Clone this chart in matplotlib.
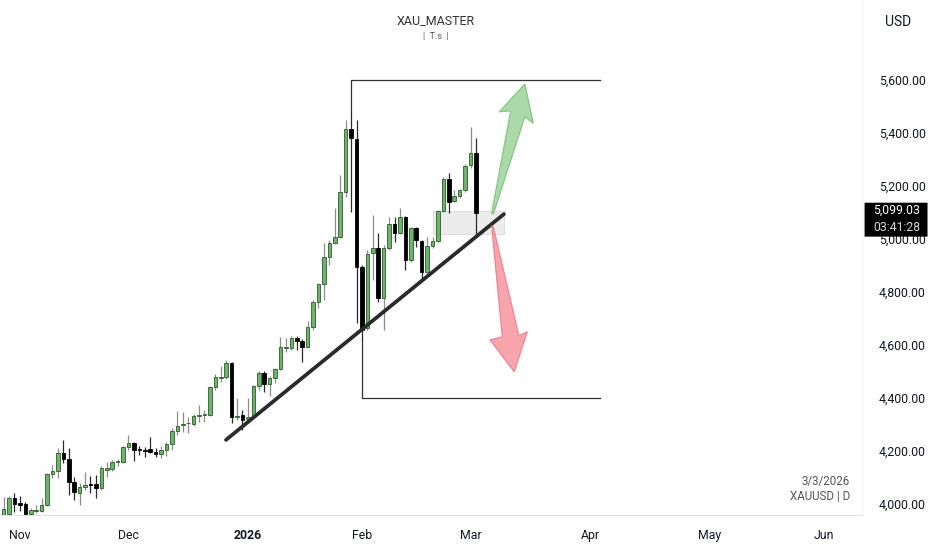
import numpy as np
import pandas as pd
import matplotlib
matplotlib.use("Agg")
from matplotlib import pyplot as plt
from matplotlib.patches import Polygon, Rectangle, FancyBboxPatch

plt.rcParams['font.family'] = ['Roboto', 'DejaVu Sans']

# trading days (XAUUSD daily), bars counted without weekends
days = pd.bdate_range('2025-10-29', '2026-06-30')
days = days[~days.isin(pd.to_datetime(['2025-12-25', '2026-01-01']))]

opens = [3958, 3962, 4023, 4004, 4000, 3962, 3975, 3974, 3996, 4113,
         4125, 4192, 4170, 4083, 4042, 4064, 4074, 4075, 4060, 4130,
         4132, 4157, 4158, 4215, 4230, 4206, 4204, 4208, 4196, 4189,
         4204, 4226, 4275, 4298, 4304, 4302, 4332, 4336, 4336, 4442,
         4477, 4479, 4532, 4330, 4336, 4321, 4328, 4445, 4494, 4453,
         4475, 4509, 4590, 4589, 4626, 4615, 4592, 4668, 4762, 4830,
         4932, 4985, 5008, 5177, 5415, 5377, 4894, 4664, 4947, 4966,
         4777, 4966, 5057, 5023, 5083, 4921, 5042, 4992, 4875, 4974,
         4992, 5106, 5226, 5143, 5162, 5185, 5279, 5325]
highs = [4026, 4030, 4042, 4030, 4008, 3985, 3996, 4023, 4117, 4147,
         4211, 4242, 4211, 4102, 4079, 4121, 4106, 4109, 4143, 4158,
         4166, 4170, 4219, 4260, 4234, 4219, 4215, 4253, 4211, 4219,
         4234, 4287, 4351, 4347, 4328, 4340, 4374, 4355, 4445, 4491,
         4521, 4543, 4536, 4400, 4355, 4400, 4449, 4502, 4502, 4483,
         4513, 4630, 4626, 4634, 4634, 4623, 4691, 4770, 4834, 4985,
         4996, 5117, 5242, 5449, 5479, 5449, 4902, 4958, 5091, 5023,
         4977, 5083, 5083, 5117, 5087, 5045, 5045, 4996, 5008, 5008,
         5109, 5234, 5249, 5185, 5189, 5283, 5423, 5381]
lows = [3955, 3955, 3970, 3974, 3955, 3958, 3966, 3970, 3992, 4098,
        4098, 4155, 4034, 4015, 3996, 4053, 4042, 4023, 4053, 4102,
        4125, 4143, 4155, 4204, 4162, 4185, 4177, 4192, 4177, 4174,
        4181, 4204, 4260, 4272, 4268, 4294, 4309, 4309, 4332, 4430,
        4460, 4472, 4306, 4317, 4279, 4317, 4325, 4430, 4423, 4408,
        4457, 4506, 4574, 4581, 4581, 4536, 4589, 4657, 4740, 4770,
        4902, 4981, 5004, 5158, 5102, 4683, 4619, 4657, 4845, 4762,
        4657, 4958, 4989, 5019, 4883, 4913, 4970, 4845, 4872, 4966,
        4989, 5102, 5098, 5140, 5155, 5177, 5268, 5015]
closes = [3981, 4023, 4000, 3996, 3962, 3977, 3979, 3996, 4113, 4125,
          4192, 4170, 4083, 4045, 4064, 4072, 4071, 4060, 4136, 4136,
          4158, 4160, 4215, 4230, 4204, 4202, 4201, 4196, 4189, 4204,
          4226, 4275, 4294, 4302, 4306, 4332, 4336, 4338, 4442, 4479,
          4481, 4532, 4328, 4332, 4317, 4328, 4445, 4494, 4453, 4475,
          4509, 4592, 4594, 4626, 4615, 4592, 4668, 4762, 4830, 4932,
          4985, 5008, 5177, 5415, 5381, 4894, 4657, 4943, 4966, 4777,
          4966, 5057, 5023, 5083, 4921, 5042, 4996, 4875, 4974, 4992,
          5106, 5226, 5140, 5162, 5185, 5275, 5325, 5099.03]

price_ticks = [4000, 4200, 4400, 4600, 4800, 5000, 5200, 5400, 5600]
month_names = ['Nov', 'Dec', '2026', 'Feb', 'Mar', 'Apr', 'May', 'Jun']

# drawings (bar index, price)
trend = [(40.96, 4242), (92.15, 5094)]
top_l = [(64, 5479), (64, 5600), (109.8, 5600)]
bot_l = [(66, 4619), (66, 4400), (109.8, 4400)]
zone = (79.1, 5019, 92.2, 5106)
up_arrow = [(89.9, 5098), (93.4, 5484), (91.3, 5480), (96.0, 5585),
            (97.55, 5437), (96.0, 5461), (90.2, 5094)]
down_arrow = [(89.9, 5049), (91.85, 4631), (89.6, 4619), (94.05, 4499),
              (96.45, 4650), (94.9, 4635), (90.2, 5046)]

fig = plt.figure(figsize=(9.32, 5.5), dpi=100)
ax = fig.add_axes([0, 35 / 550, 862 / 932, 515 / 550])
ax.set_xlim(-0.66, 158.1)
ax.set_ylim(3958.5, 5902)

n = len(closes)
x = np.arange(n)
o = np.array(opens, float)
c = np.array(closes, float)
up = c >= o
wick_col = np.where(up, '#8c8c8c', '#2a2a2a')
ax.vlines(x, lows, highs, colors=wick_col, linewidth=0.9, zorder=2)
bottom = np.minimum(o, c)
height = np.maximum(np.abs(c - o), 3.5)
ax.bar(x[up], height[up], bottom=bottom[up], width=0.66, color='#6db36a',
       edgecolor='#2f5a2f', linewidth=0.6, zorder=3)
ax.bar(x[~up], height[~up], bottom=bottom[~up], width=0.66, color='#000000',
       edgecolor='#000000', linewidth=0.6, zorder=3)

# gray zone
ax.add_patch(Rectangle((zone[0], zone[1]), zone[2] - zone[0], zone[3] - zone[1],
                       facecolor='#e6e6e6', edgecolor='#d0d0d0', linewidth=0.6,
                       alpha=0.75, zorder=1))

# trend line
ax.plot(*zip(*trend), color='#2b2b2b', linewidth=2.7, solid_capstyle='round', zorder=4)
ax.plot(*zip(*top_l), color='#333333', linewidth=0.9, zorder=1.5)
ax.plot(*zip(*bot_l), color='#333333', linewidth=0.9, zorder=1.5)

ax.add_patch(Polygon(up_arrow, closed=True, facecolor='#acd9aa', edgecolor='#86c684',
                     linewidth=0.9, zorder=5))
ax.add_patch(Polygon(down_arrow, closed=True, facecolor='#f6a5ad', edgecolor='#ef8591',
                     linewidth=0.9, zorder=5))

# axes styling
for s in ['top', 'left']:
    ax.spines[s].set_visible(False)
ax.spines['bottom'].set_color('#e0e3eb')
ax.spines['right'].set_color('#f3f4f6')
ax.yaxis.tick_right()
ax.set_yticks(price_ticks)
ax.set_yticklabels([f'{p:,.2f}' for p in price_ticks])
ax.tick_params(axis='y', length=0, pad=12, labelsize=8.8, labelcolor='#131722')

month_pos = []
for m in pd.period_range('2025-11', '2026-06', freq='M'):
    month_pos.append(int(np.argmax(days.to_period('M') == m)))
ax.set_xticks(month_pos)
ax.set_xticklabels(month_names)
ax.tick_params(axis='x', length=0, pad=10, labelsize=8.8, labelcolor='#131722')
ax.get_xticklabels()[2].set_fontweight('bold')

# last price label
ax.add_patch(FancyBboxPatch((1.003, c[-1] - 90), 0.073, 128,
                            boxstyle='round,pad=0,rounding_size=0.003',
                            transform=ax.get_yaxis_transform(), clip_on=False,
                            facecolor='#000000', edgecolor='none', zorder=10))
ax.text(1.04, c[-1] + 8, f'{c[-1]:,.2f}', transform=ax.get_yaxis_transform(),
        ha='center', va='center', color='white', fontsize=8.8, zorder=11, clip_on=False)
ax.text(1.04, c[-1] - 57, '03:41:28', transform=ax.get_yaxis_transform(),
        ha='center', va='center', color='#d8d8d8', fontsize=8.8, zorder=11, clip_on=False)

fig.text(436 / 932, 1 - 21 / 550, 'XAU_MASTER', ha='center', va='center',
         fontsize=9, color='#333333')
fig.text(436 / 932, 1 - 36 / 550, '|  T.s  |', ha='center', va='center',
         fontsize=6.5, color='#555555')
fig.text(898 / 932, 1 - 22 / 550, 'USD', ha='center', va='center',
         fontsize=10, color='#131722')
fig.text(850 / 932, 1 - 481 / 550, '3/3/2026', ha='right', va='center',
         fontsize=8.3, color='#555555')
fig.text(850 / 932, 1 - 496 / 550, 'XAUUSD | D', ha='right', va='center',
         fontsize=8.3, color='#555555')

fig.savefig('out.png', dpi=100)
